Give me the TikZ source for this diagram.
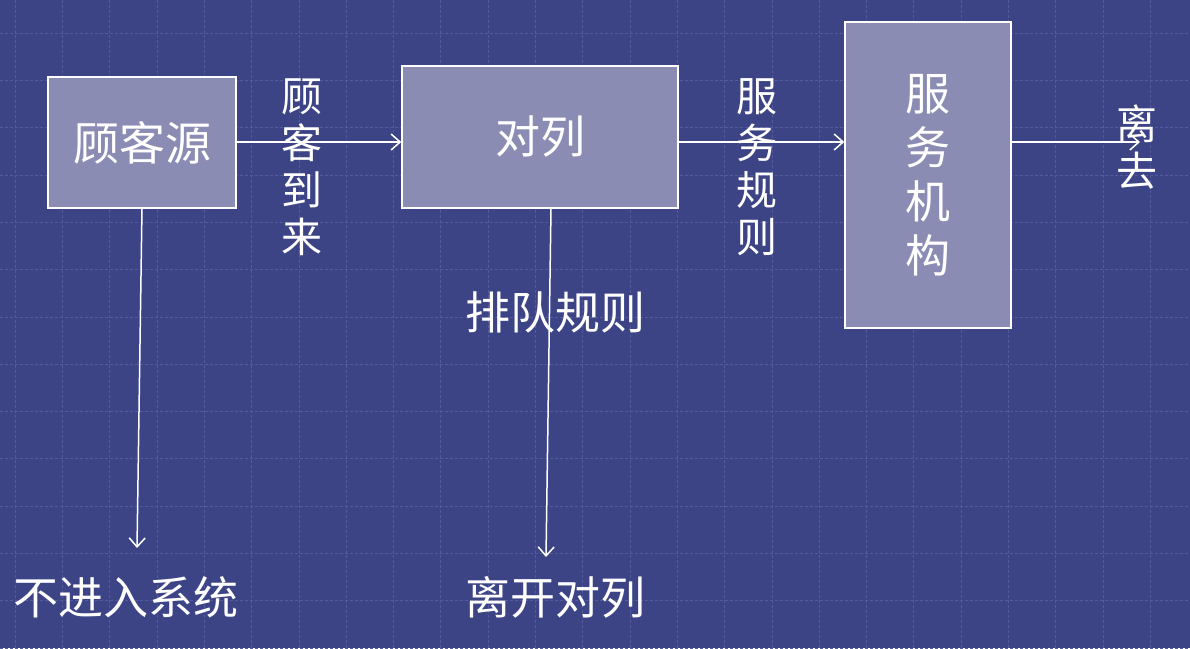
\documentclass[tikz,border=0pt]{standalone}
\usepackage{fontspec}
\newfontfamily\cjk{Noto Sans CJK SC}
\usetikzlibrary{arrows.meta}
\definecolor{bg}{HTML}{3D4486}
\definecolor{gridc}{HTML}{535B9E}
\definecolor{boxc}{HTML}{8B8CB4}
\tikzset{
  box/.style={draw=white, line width=1.5pt, fill=boxc, inner sep=0pt},
  lbl/.style={text=white, font=\cjk\fontsize{45}{50}\selectfont, inner sep=0pt},
  vlbl/.style={text=white, font=\cjk\fontsize{41}{47}\selectfont, inner sep=0pt, align=center},
  conn/.style={draw=white, line width=1.5pt, -{Straight Barb[length=9pt,width=16pt,line width=1.5pt]}},
}
\begin{document}
\begin{tikzpicture}[x=1pt,y=-1pt]
\useasboundingbox (0,0) rectangle (1190,648);
\fill[bg] (0,0) rectangle (1190,648);
\foreach \i in {0,...,25} {
  \draw[gridc, line width=0.5pt, dash pattern=on 3pt off 2pt] ({15+47.3*\i},0) -- ({15+47.3*\i},648);
}
\foreach \j in {0,...,13} {
  \draw[gridc, line width=0.5pt, dash pattern=on 3pt off 2pt] (0,{33+47.3*\j}) -- (1190,{33+47.3*\j});
}
\node[box, minimum width=188pt, minimum height=131pt] (src) at (142,142.5) {};
\node[lbl, font=\cjk\fontsize{46}{50}\selectfont] (srct) at (src.center) {顾客源};
\node[box, minimum width=276pt, minimum height=142pt] (q) at (540,137) {};
\node[lbl] (qt) at (q.center) {对列};
\node[box, minimum width=166pt, minimum height=306pt] (srv) at (928,175) {};
\node[vlbl, font=\cjk\fontsize{45}{54}\selectfont] (srvt) at (srv.center) {服\\务\\机\\构};

\node[vlbl] (arr) at (302,167) {顾\\客\\到\\来};
\node[vlbl] (rule) at (757,167) {服\\务\\规\\则};
\node[vlbl] (leave) at (1137,147) {离\\去};
\node[lbl] (qrule) at (555,312) {排队规则};
\node[lbl] (no) at (126,597) {不进入系统};
\node[lbl] (lq) at (555,597) {离开对列};

\coordinate (e1) at (1140,142);
\coordinate (d1) at (137,548);
\coordinate (d2) at (546,557);
\draw[conn] (src.east |- 0,142) -- (q.west |- 0,142);
\draw[conn] (q.east |- 0,142) -- (srv.west |- 0,142);
\draw[conn] (srv.east |- 0,142) -- (e1);
\draw[conn] (142,208) -- (d1);
\draw[conn] (551,208) -- (d2);
\end{tikzpicture}
\end{document}
